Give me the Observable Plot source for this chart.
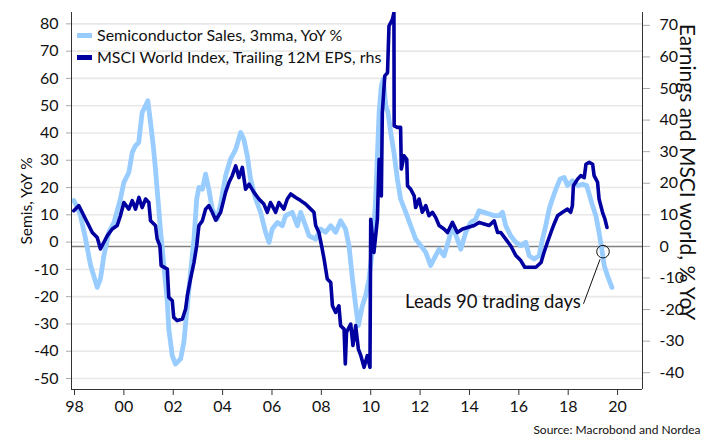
<!DOCTYPE html>
<html><head><meta charset="utf-8">
<script src="https://cdn.jsdelivr.net/npm/d3@7"></script>
<script src="https://cdn.jsdelivr.net/npm/@observablehq/plot@0.6"></script>
<style>
body{margin:0;background:#fff;}
#wrap{position:relative;width:712px;height:445px;font-family:Lato,sans-serif;}
.leg{position:absolute;left:77px;height:20px;line-height:20px;font-size:16px;color:#111;display:flex;align-items:center;white-space:nowrap;}
.sw{display:inline-block;width:15px;height:5px;margin-right:5px;}
</style></head><body>
<div id="wrap"></div>
<script>
// Semiconductor sales, 3mma, YoY % (left axis)
const semisYear = [1997.97,1998.1,1998.24,1998.45,1998.65,1998.8,1998.92,1999.05,1999.19,1999.39,1999.6,1999.86,2000.0,2000.2,2000.34,2000.47,2000.6,2000.74,2000.88,2000.97,2001.08,2001.19,2001.28,2001.38,2001.49,2001.62,2001.76,2001.82,2001.96,2002.09,2002.3,2002.43,2002.57,2002.7,2002.84,2002.95,2003.04,2003.18,2003.31,2003.44,2003.58,2003.78,2003.92,2004.12,2004.32,2004.53,2004.73,2004.86,2005.0,2005.13,2005.34,2005.54,2005.74,2005.88,2006.01,2006.22,2006.42,2006.55,2006.82,2007.03,2007.16,2007.36,2007.5,2007.77,2007.97,2008.17,2008.38,2008.58,2008.78,2008.98,2009.12,2009.26,2009.39,2009.5,2009.66,2009.8,2009.93,2010.07,2010.2,2010.27,2010.34,2010.43,2010.51,2010.61,2010.7,2010.81,2010.94,2011.08,2011.21,2011.42,2011.62,2011.82,2012.03,2012.23,2012.43,2012.56,2012.77,2012.97,2013.17,2013.31,2013.51,2013.65,2013.85,2014.05,2014.25,2014.39,2014.59,2014.8,2015.0,2015.2,2015.34,2015.47,2015.67,2015.88,2016.08,2016.28,2016.42,2016.62,2016.82,2016.96,2017.09,2017.23,2017.36,2017.5,2017.67,2017.84,2017.97,2018.17,2018.38,2018.58,2018.75,2018.85,2018.99,2019.12,2019.25,2019.36,2019.46,2019.59,2019.77];
const semisVal = [15.2,13,9.8,1.1,-8.5,-13,-16.6,-13.5,-5,3.6,7.2,15.8,21.9,25.5,32.9,35.3,36.5,47.5,50,51.8,43.8,35.3,26.7,15.8,3.6,-8.6,-22,-31.9,-41.6,-44.7,-42.8,-36.7,-23.3,-11.1,1.1,15.8,20,19.4,24.9,19.4,12.1,8.4,14,24.3,30.4,34,40.2,37.7,31.6,23.1,15.8,10.9,3.6,-0.1,4.8,7.2,6,9.7,10.9,6,10.9,6,2.3,1.1,4.8,3.6,6,3.6,7.8,4.8,-1.3,-13.5,-23.3,-30.6,-23.3,-19.5,-13.5,-2.6,15.8,31.6,47.5,57.3,59.7,50,47.5,40.2,32.9,23.1,15.8,10.9,6,1.1,-1.3,-3.8,-8.6,-6.2,-2.6,-5,1.1,6,1.1,-2.6,3.6,7.2,8.4,11.5,10.9,10.3,9.7,9.7,10.9,6,2.3,-0.1,-1.3,-0.1,-5,-6.2,-5,1.1,6,12.1,15.8,19.4,23.1,23.7,20.7,22.5,20.7,21.2,20.7,17.6,13.3,9.7,3.6,-2.6,-8.6,-12.3,-16.6];

// MSCI World Index, trailing 12M EPS, YoY % (right axis)
const epsYear = [1997.97,1998.17,1998.31,1998.45,1998.58,1998.72,1998.92,1999.05,1999.19,1999.33,1999.53,1999.73,1999.86,2000.0,2000.2,2000.34,2000.47,2000.61,2000.74,2000.88,2001.01,2001.08,2001.28,2001.35,2001.46,2001.51,2001.76,2001.82,2001.96,2002.02,2002.16,2002.37,2002.5,2002.57,2002.7,2002.84,2002.95,2003.04,2003.18,2003.31,2003.44,2003.58,2003.72,2003.92,2004.12,2004.26,2004.39,2004.53,2004.66,2004.8,2004.93,2005.07,2005.27,2005.47,2005.67,2005.81,2005.94,2006.15,2006.28,2006.48,2006.62,2006.76,2006.96,2007.16,2007.36,2007.57,2007.7,2007.77,2007.9,2008.01,2008.11,2008.24,2008.38,2008.45,2008.58,2008.71,2008.78,2008.92,2008.97,2009.02,2009.19,2009.28,2009.39,2009.5,2009.6,2009.73,2009.86,2009.97,2010.0,2010.13,2010.27,2010.34,2010.43,2010.47,2010.57,2010.68,2010.74,2010.88,2010.94,2010.95,2011.08,2011.21,2011.24,2011.35,2011.46,2011.49,2011.62,2011.76,2011.82,2011.96,2012.09,2012.23,2012.36,2012.5,2012.63,2012.77,2012.97,2013.11,2013.31,2013.51,2013.72,2013.92,2014.19,2014.39,2014.59,2014.8,2015.0,2015.14,2015.27,2015.47,2015.67,2015.88,2016.08,2016.24,2016.49,2016.69,2016.9,2017.02,2017.16,2017.3,2017.43,2017.57,2017.77,2017.97,2018.1,2018.17,2018.21,2018.38,2018.51,2018.65,2018.72,2018.85,2018.99,2019.05,2019.19,2019.25,2019.39,2019.49,2019.57];
const epsVal = [11.3,12.9,10.8,8.6,6.6,4.4,2.8,-0.8,1.3,3.4,5.5,6.6,9.7,13.9,11.8,14.5,11.8,15.5,12.3,15,13.9,8.1,6.6,2.3,0.2,-6.1,-7.2,-16.1,-17.2,-22.5,-23.5,-23,-19.8,-15.6,-10.3,-5.1,0.2,6.6,8.1,11.8,12.9,10.8,8.3,10.8,17.1,20.3,22.4,25.5,21.8,25,18.1,19.7,17.1,15,13.4,10.8,13.9,10.8,13.9,11.8,15,16.6,15.5,14.5,13.4,11.8,10.8,6.6,4.4,0.2,-4,-10.3,-11.4,-18.8,-20.9,-18.8,-25.1,-26.2,-37.2,-27.2,-24.6,-31.4,-25.1,-32.5,-34.6,-38.3,-34.6,-38.3,8.6,-1.9,8.6,27.6,16,42.4,54,55,69.8,71.9,74,38.2,37.7,37.7,24.5,28.7,27.6,19.2,18.1,16,12.3,15,10.8,12.9,9.7,10.8,9.2,6.6,5.5,4.4,7.6,4.4,5.5,6,6.6,7.6,7.1,6.6,8.1,4.4,4.4,2.3,0.2,-2.9,-4.5,-6.6,-6.6,-6.6,-5.1,-1.9,1.3,4.4,7.1,9.7,10.8,11.8,10.8,12.9,19.2,21.3,22.4,21.8,26,26.6,26,22.4,20.3,15,10.8,8.6,6];

const leftTicks = d3.range(-50, 81, 10);
const rightTicks = d3.range(-40, 71, 10);
const xTicks = d3.range(1998, 2021, 2);

const legendLabels = ["Semiconductor Sales, 3mma, YoY %", "MSCI World Index, Trailing 12M EPS, rhs"];
const annoText = ["Leads 90 trading days"];
const annoPoint = [{x: 2019.41, y: -3.5}];
const annoLeader = [{x1: 2018.62, y1: -22.6, x2: 2019.29, y2: -6.3}];
const annoLabel = [{x: 2018.51, y: -22.0, text: annoText[0]}];

// right-axis to left-axis conversion (the two axes are aligned by the chart)
const r0 = -1.575, rk = 1.1575;
const toLeft = r => r0 + rk * r;

const semis = semisYear.map((x, i) => ({x, y: semisVal[i]}));
const eps = epsYear.map((x, i) => ({x, y: toLeft(epsVal[i])}));

const xDomain = [1997.878, 2021.01];
const yDomain = [-54.03, 84.16];
const light = "#99ccff", dark = "#0000a0";

const chart = Plot.plot({
  width: 712, height: 445,
  marginLeft: 71, marginRight: 70, marginTop: 12, marginBottom: 56,
  style: {fontFamily: "Lato, sans-serif", fontSize: "16px", color: "#111", background: "#fff"},
  x: {domain: xDomain},
  y: {domain: yDomain},
  marks: [
    Plot.gridY(leftTicks, {stroke: "#e8e8e8", strokeOpacity: 1, strokeWidth: 1.6}),
    Plot.ruleY([toLeft(0)], {stroke: "#808080", strokeWidth: 1.5}),
    Plot.line(semis, {x: "x", y: "y", stroke: light, strokeWidth: 4.8, strokeLinejoin: "round", clip: true}),
    Plot.line(eps, {x: "x", y: "y", stroke: dark, strokeWidth: 3.6, strokeLinejoin: "round", clip: true}),
    Plot.ruleX([xDomain[0], xDomain[1]], {stroke: "#333", strokeWidth: 1}),
    Plot.ruleY([yDomain[0]], {stroke: "#333", strokeWidth: 1}),
    Plot.axisY(leftTicks, {anchor: "left", tickSize: 5, tickPadding: 8, stroke: "#aaa", fill: "#111", tickFormat: d => String(d), label: null}),
    Plot.axisY(rightTicks.map(toLeft), {anchor: "right", tickSize: 7, tickPadding: 10, stroke: "#aaa", fill: "#111", tickFormat: d => String(Math.round((d - r0) / rk)), label: null}),
    Plot.axisX(xTicks, {anchor: "bottom", tickSize: 6, tickPadding: 5, stroke: "#333", fill: "#111", tickFormat: d => String(d % 100).padStart(2, "0"), label: null}),
    Plot.text(["Semis, YoY %"], {frameAnchor: "left", textAnchor: "middle", dx: -44, rotate: -90, fontSize: 15.5, fill: "#111"}),
    Plot.text(["Earnings and MSCI world, % YoY"], {frameAnchor: "right", textAnchor: "middle", dx: 44, dy: -29, rotate: 90, fontSize: 21, fill: "#111"}),
    Plot.text(["Source: Macrobond and Nordea"], {frameAnchor: "bottom-right", dx: 58, dy: 44, textAnchor: "end", fontSize: 12, fill: "#111"}),
    Plot.link(annoLeader, {x1: "x1", y1: "y1", x2: "x2", y2: "y2", stroke: "#111", strokeWidth: 1}),
    Plot.dot(annoPoint, {x: "x", y: "y", r: 6.3, stroke: "#111", strokeWidth: 1, fill: "none"}),
    Plot.text(annoLabel, {x: "x", y: "y", text: "text", textAnchor: "end", fontSize: 18.5, fill: "#111"})
  ]
});

const wrap = document.getElementById("wrap");
wrap.appendChild(chart);
[[light, 25], [dark, 47]].forEach(([c, top], i) => {
  const d = document.createElement("div");
  d.className = "leg";
  d.style.top = top + "px";
  d.innerHTML = `<span class="sw" style="background:${c}"></span><span>${legendLabels[i]}</span>`;
  wrap.appendChild(d);
});
</script>
</body></html>
